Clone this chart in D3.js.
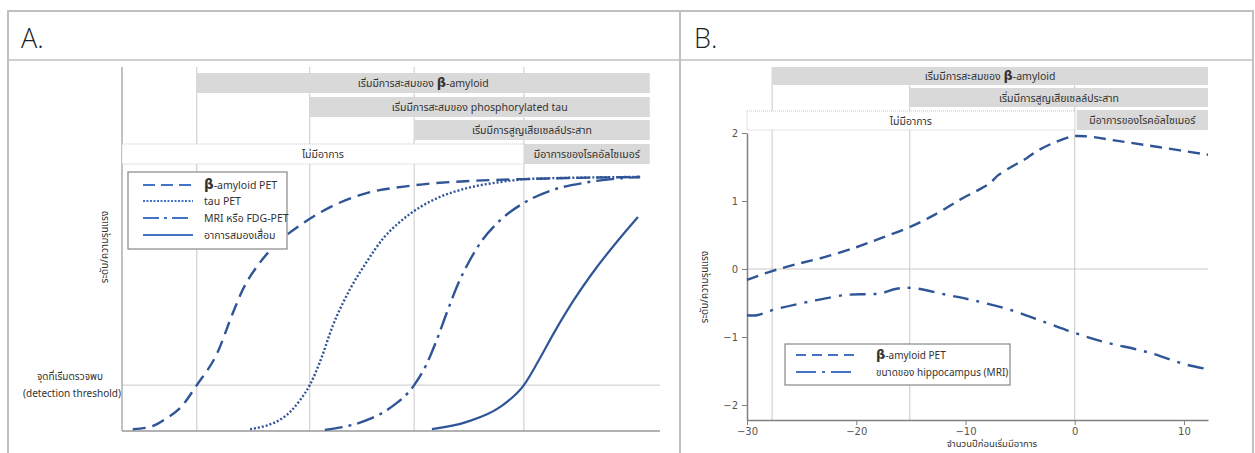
<!DOCTYPE html>
<html>
<head>
<meta charset="utf-8">
<script src="https://cdn.jsdelivr.net/npm/d3@7"></script>
<style>
  body { margin: 0; background: #fff; }
  svg text { font-family: "Noto Sans Thai", "Leelawadee UI", Tahoma, "DejaVu Sans", "Noto Sans", sans-serif; }
</style>
</head>
<body>
<svg id="chart" width="1255" height="453"></svg>
<script>
// ---------- Panel A: hypothetical sequence of biomarker changes ----------
// time axis in arbitrary units (0–100), level 0–1
const stagesA = [13.9, 34.9, 54.3, 74.7];
const thresholdA = 0.126;
const amyloidA = [[2.0,0.005],[5.2,0.011],[8.4,0.036],[10.8,0.063],[13.9,0.126],[17.7,0.214],[20.6,0.324],[22.5,0.39],[25.5,0.46],[28.8,0.515],[33.6,0.57],[38.7,0.615],[44.2,0.648],[54.3,0.675],[64.7,0.687],[74.7,0.692],[96.3,0.698]];
const tauA = [[23.8,0.005],[29.9,0.036],[33.1,0.085],[34.9,0.126],[36.8,0.19],[39.2,0.29],[42.4,0.39],[45.5,0.465],[48.6,0.53],[51.7,0.575],[55.4,0.615],[59.1,0.643],[64.1,0.667],[70.3,0.684],[76.4,0.693],[96.3,0.698]];
const mriA = [[37.7,0.003],[45.5,0.030],[49.8,0.063],[54.3,0.126],[56.5,0.18],[58.5,0.25],[60.5,0.33],[62.5,0.405],[64.5,0.465],[67.0,0.525],[70.0,0.575],[74.5,0.625],[79.6,0.66],[86.4,0.683],[96.3,0.698]];
const dementiaA = [[57.6,0.005],[64.1,0.025],[70.3,0.066],[74.7,0.126],[77.5,0.195],[80.5,0.275],[84.0,0.36],[88.0,0.445],[92.0,0.52],[95.9,0.588]];
const phaseLabelsA = ["เริ่มมีการสะสมของ ", "เริ่มมีการสะสมของ phosphorylated tau", "เริ่มมีการสูญเสียเซลล์ประสาท"];
const legendA = ["-amyloid PET", "tau PET", "MRI หรือ FDG-PET", "อาการสมองเสื่อม"];

// ---------- Panel B: biomarker trajectories by years before symptom onset ----------
const yearsTicks = [-30, -20, -10, 0, 10];
const levelTicks = [-2, -1, 0, 1, 2];
const stagesB = [-27.7, -15.1, 0];
const amyloidB = [[-30,-0.16],[-27.7,-0.03],[-25.5,0.07],[-23.0,0.17],[-20.0,0.32],[-17.8,0.45],[-15.2,0.61],[-12.8,0.80],[-10.5,1.02],[-8.5,1.19],[-7.7,1.27],[-7.0,1.38],[-5.5,1.53],[-4.4,1.63],[-3.5,1.73],[-2.0,1.85],[-0.2,1.95],[1.1,1.95],[4.1,1.88],[7.8,1.79],[12.2,1.68]];
const hippoB = [[-30,-0.68],[-29.1,-0.68],[-27.6,-0.60],[-24.0,-0.47],[-20.9,-0.38],[-19.0,-0.37],[-17.8,-0.36],[-16.3,-0.29],[-14.8,-0.28],[-11.7,-0.38],[-9.3,-0.46],[-5.9,-0.60],[-2.6,-0.79],[0,-0.94],[2.6,-1.07],[6.6,-1.22],[10.3,-1.41],[12.1,-1.47]];
const legendB = ["-amyloid PET", "ขนาดของ hippocampus (MRI)"];

const svg = d3.select("#chart");
const curveColor = "#2f5597";
const keyColor = "#4472c4";
const frameColor = "#c0c0c0";
const gridColor = "#c9c9c9";
const barFill = "#d9d9d9";
const textColor = "#333";

// ---------- frames ----------
const frame = svg.append("g").attr("stroke", frameColor).attr("stroke-width", 2);
frame.append("line").attr("x1", 8).attr("x2", 1254).attr("y1", 11).attr("y2", 11);
frame.append("line").attr("x1", 8).attr("x2", 1254).attr("y1", 60).attr("y2", 60).attr("stroke-width", 1.5);
frame.append("line").attr("x1", 8).attr("x2", 8).attr("y1", 10).attr("y2", 453);
frame.append("line").attr("x1", 680).attr("x2", 680).attr("y1", 10).attr("y2", 453);
frame.append("line").attr("x1", 1253).attr("x2", 1253).attr("y1", 10).attr("y2", 453);

svg.append("text").attr("x", 21).attr("y", 48).text("A.")
  .style("font-family", "'Open Sans', Lato, sans-serif").style("font-weight", 300)
  .style("font-size", "27px").attr("fill", "#222");
svg.append("text").attr("x", 694).attr("y", 48).text("B.")
  .style("font-family", "'Open Sans', Lato, sans-serif").style("font-weight", 300)
  .style("font-size", "27px").attr("fill", "#222");

// ---------- helpers ----------
function phaseBar(g, x0, x1, y0, h, label, filled, beta) {
  g.append("rect").attr("x", x0).attr("y", y0).attr("width", x1 - x0).attr("height", h)
    .attr("fill", filled ? barFill : "#fff")
    .attr("stroke", filled ? "none" : "#c8c8c8")
    .attr("stroke-dasharray", filled ? null : "1,1");
  const t = g.append("text").attr("x", (x0 + x1) / 2).attr("y", y0 + h / 2 + 4)
    .attr("text-anchor", "middle").attr("fill", textColor).style("font-size", "10.5px");
  t.append("tspan").text(label);
  if (beta) {
    t.append("tspan").text("β").style("font-weight", "bold").style("font-size", "13px");
    t.append("tspan").text("-amyloid");
  }
}

function legendLabel(g, x, y, label, beta, size) {
  const t = g.append("text").attr("x", x).attr("y", y + 4).attr("fill", textColor)
    .style("font-size", size + "px");
  if (beta) t.append("tspan").text("β").style("font-weight", "bold").style("font-size", (size + 3) + "px");
  t.append("tspan").text(label);
}

// ---------- Panel A ----------
const xA = d3.scaleLinear().domain([0, 100]).range([122, 660]);
const yA = d3.scaleLinear().domain([0, 1]).range([431, 67]);
const gA = svg.append("g");

gA.selectAll(".gridA").data(stagesA).join("line")
  .attr("x1", d => xA(d)).attr("x2", d => xA(d)).attr("y1", yA(1)).attr("y2", yA(0))
  .attr("stroke", gridColor).attr("stroke-width", 1);
gA.append("line").attr("x1", xA(0)).attr("x2", xA(100)).attr("y1", yA(thresholdA)).attr("y2", yA(thresholdA))
  .attr("stroke", gridColor).attr("stroke-width", 1);
gA.append("line").attr("x1", xA(0)).attr("x2", xA(0)).attr("y1", yA(1)).attr("y2", yA(0))
  .attr("stroke", "#999").attr("stroke-width", 1.2);
gA.append("line").attr("x1", xA(0)).attr("x2", xA(100)).attr("y1", yA(0)).attr("y2", yA(0))
  .attr("stroke", "#999").attr("stroke-width", 1.5);

const barEndA = 98.1;
phaseBar(gA, xA(stagesA[0]), xA(barEndA), 73, 20, phaseLabelsA[0], true, true);
phaseBar(gA, xA(stagesA[1]), xA(barEndA), 97, 20, phaseLabelsA[1], true, false);
phaseBar(gA, xA(stagesA[2]), xA(barEndA), 120, 20, phaseLabelsA[2], true, false);
phaseBar(gA, xA(0), xA(stagesA[3]), 144, 20, "ไม่มีอาการ", false, false);
phaseBar(gA, xA(stagesA[3]), xA(barEndA), 144, 20, "มีอาการของโรคอัลไซเมอร์", true, false);

const lineA = d3.line().x(d => xA(d[0])).y(d => yA(d[1])).curve(d3.curveMonotoneX);
const stylesA = [
  { data: amyloidA, dash: "13,7", w: 2.4 },
  { data: tauA, dash: "2,2", w: 2.4 },
  { data: mriA, dash: "18,6,3,6", w: 2.4 },
  { data: dementiaA, dash: null, w: 2.2 }
];
stylesA.forEach(s => {
  gA.append("path").attr("d", lineA(s.data)).attr("fill", "none")
    .attr("stroke", curveColor).attr("stroke-width", s.w).attr("stroke-dasharray", s.dash);
});

// legend A
const legA = gA.append("g");
legA.append("rect").attr("x", 128).attr("y", 172).attr("width", 159).attr("height", 77)
  .attr("fill", "#fff").attr("stroke", "#888").attr("stroke-width", 1.2);
const rowsA = [185, 201, 218, 235];
legendA.forEach((lab, i) => {
  legA.append("line").attr("x1", 143).attr("x2", 193).attr("y1", rowsA[i]).attr("y2", rowsA[i])
    .attr("stroke", keyColor).attr("stroke-width", 2.2)
    .attr("stroke-dasharray", [ "12,6", "2,1.5", "16,5,3,5", null ][i]);
  legendLabel(legA, 204, rowsA[i], lab, i === 0, 10.5);
});

// axis label and threshold label
gA.append("text").attr("transform", "translate(108,247) rotate(-90)").attr("text-anchor", "middle")
  .attr("fill", textColor).style("font-size", "10px").text("ระดับ/ความรุนแรง");
gA.append("text").attr("x", 70).attr("y", 380).attr("text-anchor", "middle")
  .attr("fill", textColor).style("font-size", "10px").text("จุดที่เริ่มตรวจพบ");
gA.append("text").attr("x", 72).attr("y", 397).attr("text-anchor", "middle")
  .attr("fill", textColor).style("font-size", "10px").text("(detection threshold)");

// ---------- Panel B ----------
const xB = d3.scaleLinear().domain([-30, 12.2]).range([747, 1208]);
const yB = d3.scaleLinear().domain([-2.22, 2]).range([420, 133]);
const gB = svg.append("g");

gB.selectAll(".gridB").data(stagesB).join("line")
  .attr("x1", d => xB(d)).attr("x2", d => xB(d)).attr("y1", 67).attr("y2", yB(-2.22))
  .attr("stroke", gridColor).attr("stroke-width", 1);
gB.append("line").attr("x1", xB(-30)).attr("x2", xB(12.2)).attr("y1", yB(0)).attr("y2", yB(0))
  .attr("stroke", gridColor).attr("stroke-width", 1);

phaseBar(gB, xB(stagesB[0]), xB(12.2), 67, 18, "เริ่มมีการสะสมของ ", true, true);
phaseBar(gB, xB(stagesB[1]), xB(12.2), 88, 19, "เริ่มมีการสูญเสียเซลล์ประสาท", true, false);
phaseBar(gB, xB(-30), xB(stagesB[2]), 111, 19, "ไม่มีอาการ", false, false);
phaseBar(gB, xB(stagesB[2]) + 2, xB(12.2), 110, 20, "มีอาการของโรคอัลไซเมอร์", true, false);

const axB = gB.append("g").attr("transform", `translate(0,${yB(-2.22)})`)
  .call(d3.axisBottom(xB).tickValues(yearsTicks).tickFormat(d3.format("d"))
    .tickSizeInner(5).tickSizeOuter(0).tickPadding(3));
const ayB = gB.append("g").attr("transform", `translate(${xB(-30)},0)`)
  .call(d3.axisLeft(yB).tickValues(levelTicks).tickFormat(d3.format("d"))
    .tickSizeInner(5).tickSizeOuter(0).tickPadding(4));
[axB, ayB].forEach(a => {
  a.select(".domain").attr("stroke", "#808080").attr("stroke-width", 1.5);
  a.selectAll(".tick line").attr("stroke", "#808080");
  a.selectAll(".tick text").attr("fill", "#555").style("font-size", "10px")
    .style("font-family", "'DejaVu Sans', sans-serif");
});

const lineB = d3.line().x(d => xB(d[0])).y(d => yB(d[1])).curve(d3.curveCatmullRom.alpha(0.5));
gB.append("path").attr("d", lineB(amyloidB)).attr("fill", "none")
  .attr("stroke", curveColor).attr("stroke-width", 2.4).attr("stroke-dasharray", "12,7");
gB.append("path").attr("d", lineB(hippoB)).attr("fill", "none")
  .attr("stroke", curveColor).attr("stroke-width", 2.4).attr("stroke-dasharray", "16,8,3,8");

// legend B
const legB = gB.append("g");
legB.append("rect").attr("x", 785).attr("y", 344).attr("width", 225).attr("height", 41)
  .attr("fill", "#fff").attr("stroke", "#888").attr("stroke-width", 1.2);
const rowsB = [355, 372];
legendB.forEach((lab, i) => {
  legB.append("line").attr("x1", 796).attr("x2", 855).attr("y1", rowsB[i]).attr("y2", rowsB[i])
    .attr("stroke", keyColor).attr("stroke-width", 2)
    .attr("stroke-dasharray", ["10,6", "20,6,3,6"][i]);
  legendLabel(legB, 876, rowsB[i], lab, i === 0, 10);
});

gB.append("text").attr("transform", "translate(708,287) rotate(-90)").attr("text-anchor", "middle")
  .attr("fill", textColor).style("font-size", "10px").text("ระดับ/ความรุนแรง");
gB.append("text").attr("x", 992).attr("y", 447).attr("text-anchor", "middle")
  .attr("fill", textColor).style("font-size", "9.5px").text("จำนวนปีก่อนเริ่มมีอาการ");
</script>
</body>
</html>
